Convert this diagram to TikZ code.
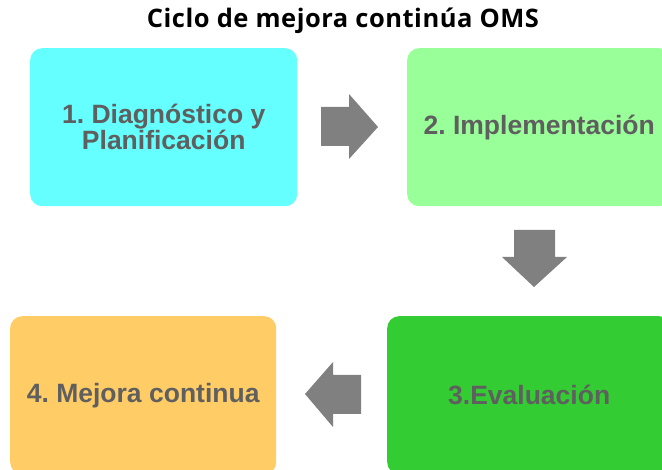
\documentclass[tikz,border=0pt]{standalone}
\usepackage{fontspec}
\setmainfont{Liberation Sans}
\newfontfamily\titlefont[LetterSpace=2]{Open Sans}
\definecolor{txtgray}{HTML}{5F5F5F}
\definecolor{arrgray}{HTML}{808080}
\definecolor{cCyan}{HTML}{66FFFF}
\definecolor{cLight}{HTML}{99FF99}
\definecolor{cGreen}{HTML}{33CC33}
\definecolor{cOrange}{HTML}{FFCC66}
\frenchspacing
\begin{document}
\begin{tikzpicture}[x=1pt,y=-1pt,
  stagebox/.style={draw=none, rounded corners=12pt, anchor=north west,
    inner sep=0pt, align=center, text=txtgray,
    font=\fontsize{26.5}{24}\selectfont\bfseries},
  blockarrow/.style={fill=arrgray, draw=none}]
\useasboundingbox (0,0) rectangle (662,470);
\fill[white] (0,0) rectangle (662,470);
\node[font=\titlefont\fontsize{25.5}{27}\selectfont\bfseries, text=black] (title) at (343,21) {Ciclo de mejora continúa OMS};
\node[stagebox, fill=cCyan, minimum width=267pt, minimum height=158pt] (s1) at (30,48) {1. Diagnóstico y\\Planificación};
\node[stagebox, fill=cLight, minimum width=264pt, minimum height=158pt] (s2) at (407,48) {2. Implementación};
\node[stagebox, fill=cGreen, minimum width=284pt, minimum height=158pt] (s3) at (387,316) {3.Evaluación};
\node[stagebox, fill=cOrange, minimum width=266pt, minimum height=158pt] (s4) at (10,316) {4. Mejora continua};
% block arrows
\fill[blockarrow] (321,107) -- (349,107) -- (349,94) -- (378,127) -- (349,159) -- (349,146) -- (321,146) -- cycle;
\fill[blockarrow] (514,230) -- (555,230) -- (555,257) -- (567,257) -- (534,287) -- (502,257) -- (514,257) -- cycle;
\fill[blockarrow] (361,375) -- (333,375) -- (333,362) -- (305,394) -- (333,427) -- (333,414) -- (361,414) -- cycle;
\end{tikzpicture}
\end{document}
